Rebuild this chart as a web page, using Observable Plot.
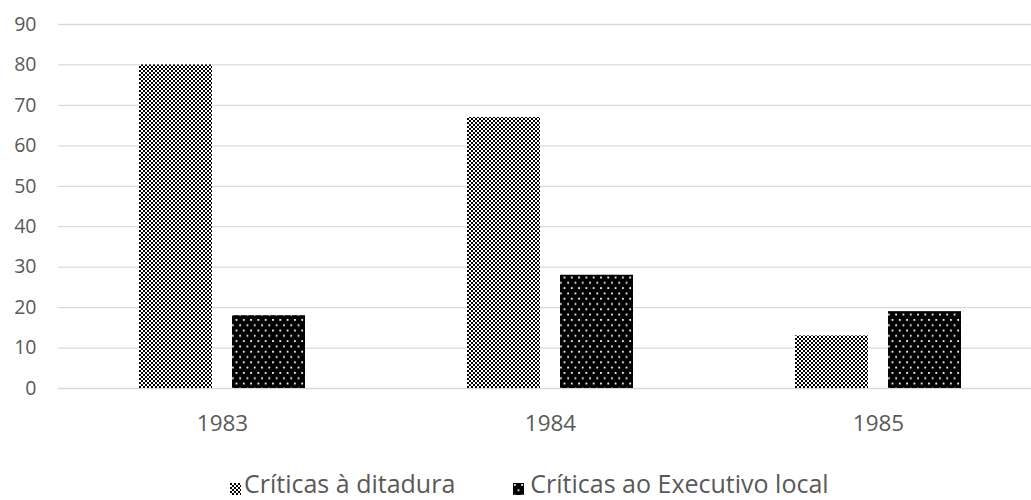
<!DOCTYPE html>
<html>
<head>
<meta charset="utf-8">
<script src="https://cdn.jsdelivr.net/npm/d3@7"></script>
<script src="https://cdn.jsdelivr.net/npm/@observablehq/plot@0.6"></script>
<style>
  body { margin: 0; background: #fff; font-family: "Open Sans", sans-serif; }
  #chart { width: 1031px; overflow: hidden; }
  .legend { display: flex; justify-content: flex-start; align-items: center; padding-top: 16px; padding-left: 230px; font-size: 25px; color: #595959; height: 34px; white-space: nowrap; }
  .legend .item { display: flex; align-items: center; }
  .legend .item + .item { margin-left: 58px; }
  .legend svg { margin-top: 12px; margin-right: 3px; }
  .legend .item + .item svg { margin-right: 6px; }
</style>
</head>
<body>
<div id="chart"></div>
<script>
const years = ["1983", "1984", "1985"];
const series = ["Críticas à ditadura", "Críticas ao Executivo local"];
const ditadura = [80, 67, 13];
const executivo = [18, 28, 19];
const yTicks = [0, 10, 20, 30, 40, 50, 60, 70, 80, 90];

const patternIds = ["pat-ditadura", "pat-executivo"];

const data = years.flatMap((yr, i) => [
  {year: yr, series: series[0], value: ditadura[i]},
  {year: yr, series: series[1], value: executivo[i]}
]);

const plot = Plot.plot({
  width: 1031,
  height: 450,
  marginLeft: 57,
  marginRight: -11,
  marginTop: 24,
  marginBottom: 62,
  style: {fontFamily: "'Open Sans', sans-serif", color: "#595959", background: "#fff"},
  fx: {domain: years, padding: 0, label: null},
  x: {domain: series, paddingInner: 0.2128, paddingOuter: 0.854, axis: null},
  y: {domain: [0, 90], axis: null},
  color: {type: "ordinal", domain: series, range: patternIds.map(id => `url(#${id})`)},
  marks: [
    Plot.gridY(yTicks, {stroke: "#d9d9d9", strokeOpacity: 1, strokeWidth: 1.3}),
    Plot.axisY(yTicks, {tickSize: 0, tickPadding: 22, fontSize: 19.5, label: null}),
    Plot.axisFx({anchor: "bottom", tickSize: 0, tickPadding: 27, fontSize: 22.5, label: null}),
    Plot.barY(data, {fx: "year", x: "series", y: "value", fill: "series"})
  ]
});

const defs = `
<pattern id="pat-ditadura" patternUnits="userSpaceOnUse" width="4" height="4">
  <rect width="4" height="4" fill="#fff"/>
  <rect x="0" y="0" width="2" height="2" fill="#000"/>
  <rect x="2" y="2" width="2" height="2" fill="#000"/>
</pattern>
<pattern id="pat-executivo" patternUnits="userSpaceOnUse" width="7.3" height="10.6">
  <rect width="7.3" height="10.6" fill="#000"/>
  <rect x="1" y="1" width="1.8" height="1.8" fill="#fff"/>
  <rect x="4.65" y="6.3" width="1.8" height="1.8" fill="#fff"/>
</pattern>`;
d3.select(plot).insert("defs", ":first-child").html(defs);

document.getElementById("chart").appendChild(plot);

const legend = d3.select("body").append("div").attr("class", "legend");
series.forEach((s, i) => {
  const item = legend.append("div").attr("class", "item");
  item.append("svg").attr("width", 11).attr("height", 12)
    .append("rect").attr("width", 11).attr("height", 12).attr("fill", `url(#${patternIds[i]})`);
  item.append("span").text(s);
});
</script>
</body>
</html>
